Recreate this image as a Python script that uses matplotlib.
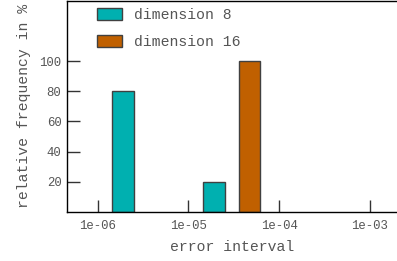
import matplotlib
matplotlib.use("Agg")
import matplotlib.pyplot as plt
import numpy as np

# data
bins = [1e-6, 1e-5, 1e-4]           # lower edge of each error interval (decade)
dim8 = [80, 20, 0]                  # relative frequency in %
dim16 = [0, 100, 0]
series_names = ["dimension 8", "dimension 16"]
xticks = [1e-6, 1e-5, 1e-4, 1e-3]
xtick_labels = ["1e-06", "1e-05", "1e-04", "1e-03"]
yticks = [20, 40, 60, 80, 100]

plt.rcParams['font.family'] = ['Liberation Mono', 'DejaVu Sans Mono']
TXT = '#555555'

fig = plt.figure(figsize=(3.97, 2.61), dpi=100)
ax = fig.add_axes([67/397, 49.3/261, 1 - 67/397, (260 - 49.3)/261])

colors = ['#00b0b0', '#c06000']
offsets = [(0.16, 0.40), (0.555, 0.795)]  # cluster positions within a decade (log10)
for vals, col, (o0, o1), name in zip([dim8, dim16], colors, offsets, series_names):
    b = np.array(bins)
    v = np.array(vals, dtype=float)
    left = b * 10**o0
    right = b * 10**o1
    m = v > 0
    ax.bar(left[m], v[m], width=(right - left)[m], align='edge', color=col,
           edgecolor='#404040', linewidth=1.0, label=name, zorder=2)

ax.set_xscale('log')
ax.set_xlim(10**(-6 + (67 - 97.7)/90.67), 10**(-6 + (397 - 97.7)/90.67))
ax.set_ylim(0, 140)
ax.set_xticks(xticks)
ax.set_xticklabels(xtick_labels)
ax.xaxis.set_minor_locator(matplotlib.ticker.NullLocator())
ax.set_yticks(yticks)

ax.spines['right'].set_visible(False)
for s in ['left', 'top', 'bottom']:
    ax.spines[s].set_linewidth(1.0)
    ax.spines[s].set_color('black')

ax.tick_params(axis='both', direction='in', length=9, width=1.0, color='#333333',
               labelsize=8.9, labelcolor=TXT)
ax.tick_params(axis='x', pad=6, top=False)
ax.tick_params(axis='y', pad=4, right=False)

ax.set_xlabel('error interval', fontsize=10.6, color=TXT, labelpad=6)
ax.set_ylabel('relative frequency in %', fontsize=10.6, color=TXT, labelpad=6)

leg = ax.legend(loc='upper left', bbox_to_anchor=(97/397, 1 - 8/261),
                bbox_transform=fig.transFigure, frameon=False, fontsize=10.6,
                borderpad=0, borderaxespad=0, handlelength=1.7, handleheight=0.88,
                handletextpad=0.8, labelspacing=0.87)
for t in leg.get_texts():
    t.set_color(TXT)

fig.savefig('out.png', dpi=100)
